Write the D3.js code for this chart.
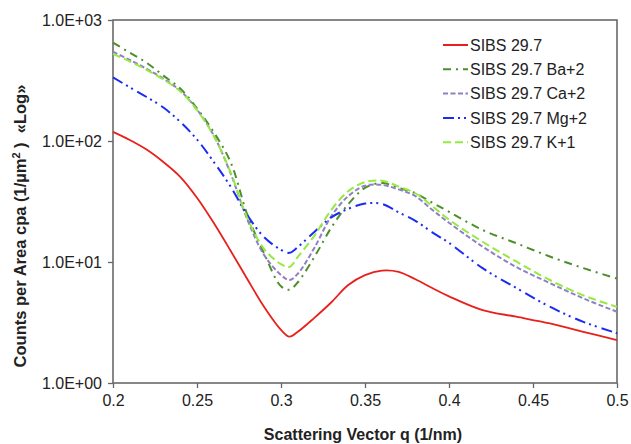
<!DOCTYPE html>
<html>
<head>
<meta charset="utf-8">
<script src="https://cdn.jsdelivr.net/npm/d3@7"></script>
<style>
  body { margin: 0; background: #fff; }
  svg { font-family: "Liberation Sans", Arial, sans-serif; }
</style>
</head>
<body>
<svg width="631" height="444"></svg>
<script>
//  data
var q = [0.2, 0.21, 0.22, 0.23, 0.24, 0.25, 0.26, 0.27, 0.28, 0.29, 0.30, 0.305, 0.31,
         0.32, 0.33, 0.34, 0.35, 0.36, 0.37, 0.38, 0.39, 0.40, 0.42, 0.44, 0.46, 0.48, 0.50];

var sibs = [119, 102, 85, 67, 50.6, 34, 21, 12.4, 7.2, 4.25, 2.75, 2.42, 2.65,
            3.47, 4.65, 6.45, 7.8, 8.5, 8.3, 7.2, 6.1, 5.2, 4.0, 3.53, 3.11, 2.65, 2.26];
var ba = [650, 537, 443, 347, 272, 186, 118, 67, 24.5, 11.7, 6.3, 5.9, 6.8,
          11.1, 19.3, 30, 41, 45, 41, 37, 31, 26, 18.4, 14.3, 11.1, 8.9, 7.3];
var ca = [547, 467, 395, 327, 261, 182, 111, 54, 22.4, 11.4, 7.8, 7.1, 8,
          13.2, 24, 35, 42.7, 43.4, 39.8, 35, 27, 21.1, 13.4, 9.1, 6.7, 5.0, 3.88];
var mg = [335, 278, 231, 189, 144, 103, 67, 42, 24.3, 16, 12.6, 11.9, 13.3,
          17.8, 23.4, 27.5, 30.4, 30.2, 25.7, 21.9, 17.6, 14.4, 8.9, 6.1, 4.27, 3.2, 2.58];
var k = [525, 455, 388, 322, 258, 180, 110, 55, 23, 12.8, 9.6, 9.1, 11,
         16.6, 27, 38.4, 45.7, 47, 42, 37, 29, 22.4, 14.7, 10.1, 7.1, 5.3, 4.26];

var seriesNames = ["SIBS 29.7", "SIBS 29.7 Ba+2", "SIBS 29.7 Ca+2", "SIBS 29.7 Mg+2", "SIBS 29.7 K+1"];
var seriesValues = [sibs, ba, ca, mg, k];
var seriesColors = ["#e8201c", "#4e8f2c", "#8f80c4", "#1a2cf2", "#94ea3e"];
var seriesDash = [null, "8,5,2,5", "5,2.5", "11,4,2,4,2,5", "8,4"];

var xTicks = [0.2, 0.25, 0.3, 0.35, 0.4, 0.45, 0.5];
var yTicks = [1, 10, 100, 1000];

//  svg selection and sizing
var svg = d3.select("svg");
var margin = {left: 113, top: 20, right: 14, bottom: 61};
var width = +svg.attr("width") - margin.left - margin.right;
var height = +svg.attr("height") - margin.top - margin.bottom;

var x = d3.scaleLinear().domain([0.2, 0.5]).range([0, width]);
var y = d3.scaleLog().domain([1, 1000]).range([height, 0]);

var g = svg.append("g").attr("transform", "translate(" + margin.left + "," + margin.top + ")");

//  axes
var xAxis = g.append("g")
  .attr("transform", "translate(0," + height + ")")
  .call(d3.axisBottom(x).tickValues(xTicks).tickSize(5).tickPadding(7)
    .tickFormat(function(d) { return String(+d.toFixed(2)); }));

var yAxis = g.append("g")
  .call(d3.axisLeft(y).tickValues(yTicks).tickSize(5).tickPadding(6)
    .tickFormat(function(d) { return "1.0E+0" + Math.round(Math.log10(d)); }));

[xAxis, yAxis].forEach(function(a) {
  a.select(".domain").remove();
  a.selectAll("line").attr("stroke", "#666").attr("stroke-width", 1.3);
  a.selectAll("text").attr("fill", "#222").style("font-size", "16px");
});

//  frame
g.append("rect")
  .attr("width", width)
  .attr("height", height)
  .attr("fill", "none")
  .attr("stroke", "#6a6a6a")
  .attr("stroke-width", 1.6);

//  lines
var line = d3.line()
  .x(function(d) { return x(d[0]); })
  .y(function(d) { return y(d[1]); })
  .curve(d3.curveCatmullRom.alpha(0.5));

seriesValues.forEach(function(vals, i) {
  var pts = q.map(function(v, j) { return [v, vals[j]]; });
  g.append("path")
    .datum(pts)
    .attr("fill", "none")
    .attr("stroke", seriesColors[i])
    .attr("stroke-width", i === 0 ? 1.8 : 2)
    .attr("stroke-dasharray", seriesDash[i])
    .attr("d", line);
});

//  legend
var legend = svg.append("g").attr("transform", "translate(443,45)");
seriesNames.forEach(function(name, i) {
  var row = legend.append("g").attr("transform", "translate(0," + (i * 24.3) + ")");
  row.append("line")
    .attr("x1", 0).attr("x2", 25)
    .attr("stroke", seriesColors[i])
    .attr("stroke-width", 2)
    .attr("stroke-dasharray", seriesDash[i]);
  row.append("text")
    .attr("x", 27)
    .attr("dy", "0.35em")
    .attr("fill", "#222")
    .style("font-size", "16px")
    .text(name);
});

//  axis titles
svg.append("text")
  .attr("x", margin.left + width / 2 - 2)
  .attr("y", 440)
  .attr("text-anchor", "middle")
  .attr("fill", "#222")
  .style("font-size", "16px")
  .style("font-weight", "bold")
  .text("Scattering Vector q (1/nm)");

var yt = svg.append("text")
  .attr("transform", "translate(26,226) rotate(-90)")
  .attr("text-anchor", "middle")
  .attr("fill", "#222")
  .style("font-size", "16.5px")
  .style("font-weight", "bold")
  .style("white-space", "pre");
yt.append("tspan").text("Counts per Area cpa (1/µm");
yt.append("tspan").attr("dy", -6).style("font-size", "11px").text("2");
yt.append("tspan").attr("dy", 6).text(" )  «Log»");
</script>
</body>
</html>
